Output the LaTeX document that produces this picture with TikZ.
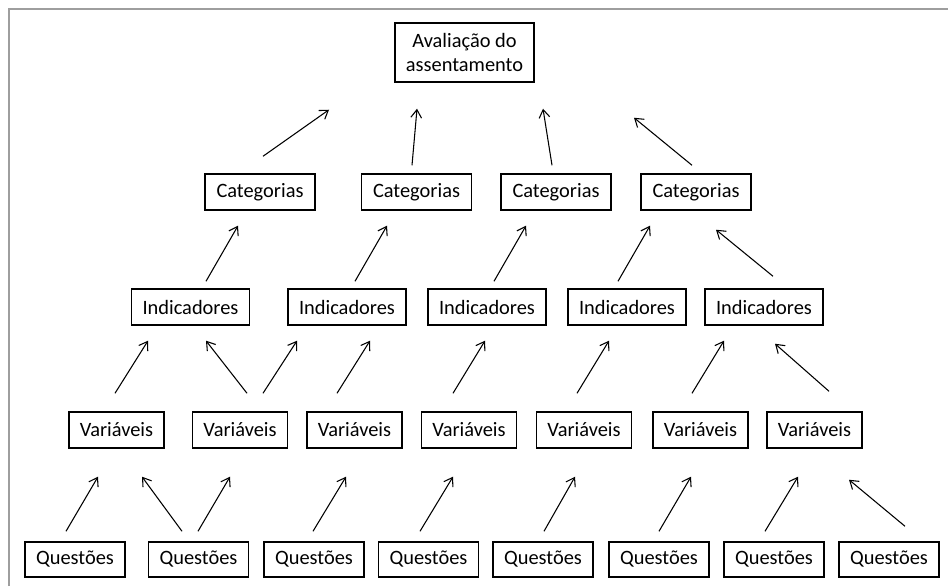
\documentclass[tikz,border=0pt]{standalone}
\usepackage{fontspec}
\setmainfont{Carlito}
\usetikzlibrary{arrows.meta,calc}
\begin{document}
\begin{tikzpicture}[x=0.75pt,y=-0.75pt,
  box/.style={draw=black,line width=1.1pt,inner sep=0pt,minimum height=27pt,
    font=\fontsize{15.3pt}{18pt}\selectfont,align=center},
  topbox/.style={box,minimum width=104.25pt,minimum height=44.25pt},
  catbox/.style={box,minimum width=82.5pt},
  indbox/.style={box,minimum width=88.5pt},
  varbox/.style={box,minimum width=71.25pt},
  quebox/.style={box,minimum width=75pt,minimum height=26.25pt},
  arr/.style={draw=black,line width=0.8pt,-{Straight Barb[length=6pt,width=8pt,line width=0.8pt]}},
  frameline/.style={draw=black!38,line width=1.6pt}]
\useasboundingbox (0,0) rectangle (948,586);
\draw[frameline] (9,586) -- (9,9) -- (948,9);
% nodes
\node[topbox] (top) at (464.5,52.5) {Avaliação do\\assentamento};
\node[catbox] (c1) at (260,192) {Categorias};
\node[catbox] (c2) at (416.5,192) {Categorias};
\node[catbox] (c3) at (556,192) {Categorias};
\node[catbox] (c4) at (696,192) {Categorias};
\node[indbox] (i1) at (190.5,307) {Indicadores};
\node[indbox] (i2) at (347,307) {Indicadores};
\node[indbox] (i3) at (487,307) {Indicadores};
\node[indbox] (i4) at (627,307) {Indicadores};
\node[indbox] (i5) at (764,307) {Indicadores};
\node[varbox] (v1) at (116.5,430) {Variáveis};
\node[varbox] (v2) at (240,430) {Variáveis};
\node[varbox] (v3) at (354.5,430) {Variáveis};
\node[varbox] (v4) at (469,430) {Variáveis};
\node[varbox] (v5) at (584,430) {Variáveis};
\node[varbox] (v6) at (700.5,430) {Variáveis};
\node[varbox] (v7) at (814.5,430) {Variáveis};
\node[quebox] (q1) at (75,559.5) {Questões};
\node[quebox] (q2) at (198.5,559.5) {Questões};
\node[quebox] (q3) at (314,559.5) {Questões};
\node[quebox] (q4) at (428.5,559.5) {Questões};
\node[quebox] (q5) at (543,559.5) {Questões};
\node[quebox] (q6) at (659,559.5) {Questões};
\node[quebox] (q7) at (774,559.5) {Questões};
\node[quebox] (q8) at (889,559.5) {Questões};
% Categorias -> top
\draw[arr] ($(c1.north)+(3,-17)$) -- ($(top.south)+(-135.5,27)$);
\draw[arr] ($(c2.north)+(-4.5,-8)$) -- ($(top.south)+(-47.5,26)$);
\draw[arr] ($(c3.north)+(-4,-8)$) -- ($(top.south)+(78.5,26)$);
\draw[arr] ($(c4.north)+(-4,-8)$) -- ($(top.south)+(169.5,35)$);
% Indicadores -> Categorias
\draw[arr] ($(i1.north)+(15.5,-7)$) -- ($(c1.south)+(-22,15)$);
\draw[arr] ($(i2.north)+(8,-7)$) -- ($(c2.south)+(-29.5,15)$);
\draw[arr] ($(i3.north)+(7,-7)$) -- ($(c3.south)+(-30,15)$);
\draw[arr] ($(i4.north)+(-9,-7)$) -- ($(c4.south)+(-46,15)$);
\draw[arr] ($(i5.north)+(9,-12)$) -- ($(c4.south)+(20,19)$);
% Variaveis -> Indicadores
\draw[arr] ($(v1.north)+(-1.5,-18)$) -- ($(i1.south)+(-42.5,15)$);
\draw[arr] ($(v2.north)+(7,-18)$) -- ($(i1.south)+(15.5,15)$);
\draw[arr] ($(v2.north)+(23,-18)$) -- ($(i2.south)+(-50,15)$);
\draw[arr] ($(v3.north)+(-17.5,-18)$) -- ($(i2.south)+(23,15)$);
\draw[arr] ($(v4.north)+(-16,-18)$) -- ($(i3.south)+(-2,15)$);
\draw[arr] ($(v5.north)+(-7,-18)$) -- ($(i4.south)+(-18,15)$);
\draw[arr] ($(v6.north)+(-8.5,-18)$) -- ($(i5.south)+(-40,15)$);
\draw[arr] ($(v7.north)+(14.5,-20)$) -- ($(i5.south)+(11,18)$);
% Questoes -> Variaveis
\draw[arr] ($(q1.north)+(-9,-10)$) -- ($(v1.south)+(-18.5,28)$);
\draw[arr] ($(q2.north)+(-16.5,-10)$) -- ($(v1.south)+(25.5,28)$);
\draw[arr] ($(q2.north)+(-0.5,-10)$) -- ($(v2.south)+(-10,28)$);
\draw[arr] ($(q3.north)+(-1,-10)$) -- ($(v3.south)+(-8.5,28)$);
\draw[arr] ($(q4.north)+(-8.5,-10)$) -- ($(v4.south)+(-16,28)$);
\draw[arr] ($(q5.north)+(1,-10)$) -- ($(v5.south)+(-9,28)$);
\draw[arr] ($(q6.north)+(0,-10)$) -- ($(v6.south)+(-9.5,28)$);
\draw[arr] ($(q7.north)+(-9,-10)$) -- ($(v7.south)+(-16.5,28)$);
\draw[arr] ($(q8.north)+(16,-15)$) -- ($(v7.south)+(34.5,31)$);
\end{tikzpicture}
\end{document}
